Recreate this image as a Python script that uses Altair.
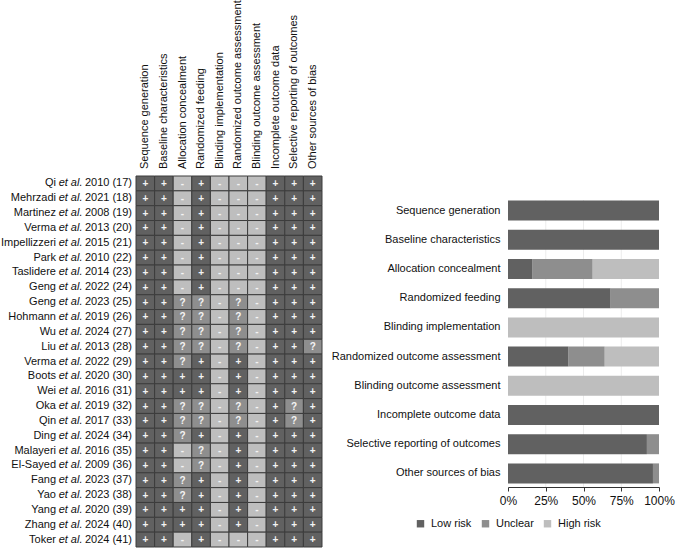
import altair as alt
import pandas as pd

# Risk-of-bias domains (columns of the summary grid, rows of the bar chart)
domains = [
    "Sequence generation",
    "Baseline characteristics",
    "Allocation concealment",
    "Randomized feeding",
    "Blinding implementation",
    "Randomized outcome assessment",
    "Blinding outcome assessment",
    "Incomplete outcome data",
    "Selective reporting of outcomes",
    "Other sources of bias",
]

# Included studies
names = ["Qi", "Mehrzadi", "Martinez", "Verma", "Impellizzeri", "Park", "Taslidere",
         "Geng", "Geng", "Hohmann", "Wu", "Liu", "Verma", "Boots", "Wei", "Oka", "Qin",
         "Ding", "Malayeri", "El-Sayed", "Fang", "Yao", "Yang", "Zhang", "Toker"]
years = [2010, 2021, 2008, 2013, 2015, 2010, 2014, 2022, 2023, 2019, 2024, 2013, 2022,
         2020, 2016, 2019, 2017, 2024, 2016, 2009, 2023, 2023, 2020, 2024, 2024]
refs = [17, 18, 19, 20, 21, 22, 23, 24, 25, 26, 27, 28, 29, 30, 31, 32, 33, 34, 35, 36,
        37, 38, 39, 40, 41]

# Judgements per study, one character per domain: + low, ? unclear, - high
ratings = [
    "++-+---+++", "++-+---+++", "++-+---+++", "++-+---+++", "++-+---+++",
    "++-+---+++", "++-+---+++", "++-+---+++",
    "++??-?-+++", "++??-?-+++", "++??-?-+++", "++??-?-++?",
    "++?+-+-+++", "++++-+-+++", "++++-+-+++",
    "++??-?-+?+", "++??-?-+?+",
    "++?+-+-+++", "++-?-+-+++", "++-?-+-+++",
    "++?+-+-+++", "++?+-+-+++", "++++-+-+++", "++++-+-+++",
    "++-+---+++",
]

risk_levels = ["Low risk", "Unclear", "High risk"]
risk_colors = ["#616161", "#8e8e8e", "#bebebe"]
symbol_to_risk = {"+": "Low risk", "?": "Unclear", "-": "High risk"}

FONT = "Liberation Sans"

keys = [f"{n} {y} ({r})" for n, y, r in zip(names, years, refs)]
study_df = pd.DataFrame({
    "study": keys,
    "name": names,
    "etal": ["et al."] * len(names),
    "yr": [f"{y} ({r})" for y, r in zip(years, refs)],
})

rows = []
for key, code in zip(keys, ratings):
    for dom, sym in zip(domains, code):
        risk = symbol_to_risk[sym]
        rows.append({"study": key, "domain": dom, "symbol": sym, "risk": risk,
                     "rank": risk_levels.index(risk)})
grid_df = pd.DataFrame(rows)
domain_df = pd.DataFrame({"domain": domains})

legend = alt.Legend(orient="none", legendX=415, legendY=518, direction="horizontal",
                    title=None, symbolType="square", symbolSize=55,
                    symbolStrokeWidth=0, labelFont=FONT, labelFontSize=11,
                    labelColor="#111111", labelOffset=5, columnPadding=8)
color = alt.Color("risk:N", scale=alt.Scale(domain=risk_levels, range=risk_colors),
                  legend=legend)

# ---- Summary grid ---------------------------------------------------------
gx = alt.X("domain:N", sort=domains, axis=None,
           scale=alt.Scale(range=[136, 322], paddingInner=0, paddingOuter=0))
gy = alt.Y("study:N", sort=keys, axis=None,
           scale=alt.Scale(range=[176, 547], paddingInner=0, paddingOuter=0))

cells = alt.Chart(grid_df).mark_rect(stroke="#3c3c3c", strokeWidth=1).encode(
    x=gx, y=gy, color=color
)
symbols = alt.Chart(grid_df).mark_text(
    font=FONT, fontSize=10, fontWeight="bold", color="#f4f4f4", baseline="middle", dy=0.5
).encode(x=gx, y=gy, text="symbol:N")

col_labels = alt.Chart(domain_df).mark_text(
    font=FONT, fontSize=11, angle=270, align="left", baseline="middle", color="#111111"
).encode(x=gx, y=alt.value(169), text="domain:N")

# Study label = name + italic "et al." + year (ref), laid out right to left
name_labels = alt.Chart(study_df).mark_text(
    font=FONT, fontSize=11, align="right", baseline="middle", color="#111111"
).encode(x=alt.value(56), y=gy, text="name:N")
etal_labels = alt.Chart(study_df).mark_text(
    font=FONT, fontSize=11, fontStyle="italic", align="right", baseline="middle", color="#111111"
).encode(x=alt.value(82.5), y=gy, text="etal:N")
year_labels = alt.Chart(study_df).mark_text(
    font=FONT, fontSize=11, align="right", baseline="middle", color="#111111"
).encode(x=alt.value(132), y=gy, text="yr:N")

grid_layer = alt.layer(cells, symbols, col_labels, name_labels, etal_labels, year_labels)

# ---- Summary bar chart ------------------------------------------------------
bx_scale = alt.Scale(domain=[0, 1], range=[508, 659], nice=False, zero=True)
bx_axis = alt.Axis(
    orient="bottom", offset=-64, title=None, format="%", values=[0, 0.25, 0.5, 0.75, 1],
    grid=False, labelFlush=False, labelFont=FONT, labelFontSize=12, labelColor="#111111",
    labelPadding=4, tickSize=4, tickColor="#333333", domainColor="#333333",
)
by = alt.Y("domain:N", sort=domains,
           scale=alt.Scale(range=[196, 488], paddingInner=0.315, paddingOuter=0.1575),
           axis=alt.Axis(orient="left", offset=-508, title=None, domain=False, ticks=False,
                         labelPadding=8, labelFont=FONT, labelFontSize=11,
                         labelColor="#111111", labelLimit=300))

gridlines = alt.Chart(pd.DataFrame({"v": [0.25, 0.5, 0.75]})).mark_rule(
    color="#ececec", strokeWidth=1
).encode(x=alt.X("v:Q", scale=bx_scale, axis=bx_axis), y=alt.value(200), y2=alt.value(487))

bars = alt.Chart(grid_df).transform_aggregate(
    n="count()", groupby=["domain", "risk", "rank"]
).mark_bar().encode(
    x=alt.X("n:Q", stack="normalize", scale=bx_scale, axis=bx_axis),
    y=by,
    color=color,
    order=alt.Order("rank:Q"),
)

bar_layer = alt.layer(gridlines, bars)

chart = alt.layer(grid_layer, bar_layer).resolve_scale(
    x="independent", y="independent"
).properties(
    width=677, height=551, autosize="none", padding=0
).configure_view(stroke=None)

chart.save("out.html", embed_options={"renderer": "svg", "actions": False})
